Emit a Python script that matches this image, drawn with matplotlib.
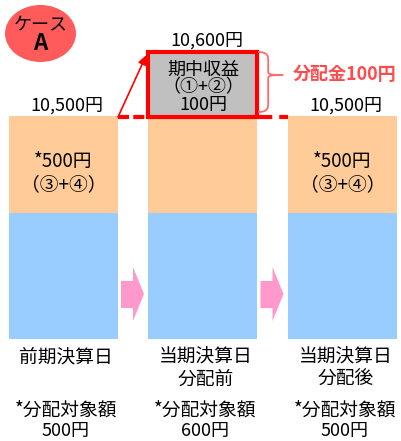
import matplotlib
matplotlib.use('Agg')
import matplotlib.pyplot as plt
from matplotlib.patches import Ellipse, Polygon, PathPatch
from matplotlib.path import Path

plt.rcParams['font.family'] = ['Noto Sans CJK JP', 'DejaVu Sans']
plt.rcParams['lines.scale_dashes'] = False

# ---- data ----
categories = ['前期決算日', '当期決算日\n分配前', '当期決算日\n分配後']
nav = [10500, 10600, 10500]
distributable = [500, 600, 500]
income = [0, 100, 0]
distribution = 100
case_label = 'ケース'
case_id = 'A'

# ---- layout (pixel-like schematic units) ----
PX = 139.5
BASE = 102
BLUE_H = 126
ORANGE_H = 97
GRAY_H = 65
BAR_W = 109 / PX

fig = plt.figure(figsize=(4.02, 4.41), dpi=100)
ax = fig.add_axes([0, 0, 1, 1])
ax.set_xlim(-63.5 / PX, (402 - 63.5) / PX)
ax.set_ylim(0, 441)
ax.axis('off')


def X(px):
    return (px - 63.5) / PX


def Y(py):
    return 441 - py


FS = 13          # numbers / box text
FS_CJK = 13.5    # category labels
xs = list(range(len(categories)))
top = BASE + BLUE_H + ORANGE_H

ax.bar(xs, [BLUE_H] * 3, bottom=BASE, width=BAR_W, color='#99CCFF', zorder=2)
ax.bar(xs, [ORANGE_H] * 3, bottom=BASE + BLUE_H, width=BAR_W, color='#FFCC99', zorder=2)

# dashed NAV line between bars
ax.plot([BAR_W / 2, 1 - BAR_W / 2], [top - 1, top - 1], color='red', lw=3,
        dashes=(8, 3), zorder=3, dash_capstyle='butt')
ax.plot([1 + BAR_W / 2, 2 - BAR_W / 2], [top - 1, top - 1], color='red', lw=3,
        dashes=(11, 5), zorder=3, dash_capstyle='butt')

# income box
inc_idx = [i for i, v in enumerate(income) if v > 0]
ax.bar(inc_idx, [GRAY_H] * len(inc_idx), bottom=top - 1, width=BAR_W,
       color='#C0C0C0', edgecolor='#FF0000', linewidth=3, zorder=5)

for i in inc_idx:
    # red arrow from previous NAV to new NAV
    ax.annotate('', xy=(i - BAR_W / 2 - 0.015, top + GRAY_H - 4),
                xytext=(i - 1 + BAR_W / 2, top - 1),
                arrowprops=dict(arrowstyle='-|>,head_length=0.55,head_width=0.25',
                                color='#FF0000', lw=1.2, shrinkA=0, shrinkB=0),
                zorder=6)
    ax.text(i, Y(70), '期中収益', ha='center', va='center', fontsize=FS, zorder=7)
    ax.text(i, Y(87), '（①+②）', ha='center', va='center', fontsize=FS, zorder=7)
    ax.text(i, Y(105), f'{income[i]}円', ha='center', va='center', fontsize=FS, zorder=7)

    # brace
    x0 = i + BAR_W / 2 + 0.005
    xm = x0 + 10 / PX
    xt = x0 + 25 / PX
    yt, ym, yb = Y(52), Y(75), Y(112)
    verts = [(x0, yt), (xm, yt), (xm, yt - 5), (xm, yt - 8),
             (xm, ym + 4),
             (xm, ym + 1), (xm, ym), (xt, ym),
             (xm, ym), (xm, ym - 1), (xm, ym - 4),
             (xm, yb + 8),
             (xm, yb + 5), (xm, yb), (x0, yb)]
    codes = [Path.MOVETO, Path.CURVE4, Path.CURVE4, Path.CURVE4,
             Path.LINETO,
             Path.CURVE4, Path.CURVE4, Path.CURVE4,
             Path.CURVE4, Path.CURVE4, Path.CURVE4,
             Path.LINETO,
             Path.CURVE4, Path.CURVE4, Path.CURVE4]
    ax.add_patch(PathPatch(Path(verts, codes), fill=False, edgecolor='#FF6B6B',
                           lw=1.3, zorder=6))
    ax.text(X(293), ym, f'分配金{distribution}円', ha='left', va='center',
            fontsize=13, fontweight='bold', color='#FF4B4B', zorder=7)

# NAV labels
for i, v in enumerate(nav):
    py = 41 if income[i] > 0 else 106
    ax.text(i + 0.025, Y(py), f'{v:,}円', ha='center', va='center', fontsize=FS, zorder=7)

# texts inside orange sections
for i, d in enumerate(distributable):
    if income[i] == 0:
        ax.text(i, Y(162), f'*{d}円', ha='center', va='center', fontsize=FS_CJK, zorder=7)
        ax.text(i, Y(185), '（③+④）', ha='center', va='center', fontsize=FS_CJK, zorder=7)

# category labels and distributable amounts
for i, (c, d) in enumerate(zip(categories, distributable)):
    for k, line in enumerate(c.split('\n')):
        ax.text(i + 0.02, Y(357 + 22 * k), line, ha='center', va='center', fontsize=FS_CJK)
    ax.text(i + 0.015, Y(410), '*分配対象額', ha='center', va='center', fontsize=FS_CJK)
    ax.text(i + 0.015, Y(431), f'{d}円', ha='center', va='center', fontsize=FS)

# pink arrows between bars
for g in (0.5, 1.5):
    c = X(133) + (g - 0.5)
    pts = [(c - 12 / PX, Y(281)), (c, Y(281)), (c, Y(267)), (c + 11 / PX, Y(294)),
           (c, Y(321)), (c, Y(308)), (c - 12 / PX, Y(308))]
    ax.add_patch(Polygon(pts, closed=True, facecolor='#FF99CC', edgecolor='none', zorder=3))

# case badge
ax.add_patch(Ellipse((X(40.5), Y(33.5)), 71 / PX, 57, facecolor='#FF5B5B',
                     edgecolor='none', zorder=4))
ax.text(X(40.5), Y(25), case_label, ha='center', va='center', fontsize=13, zorder=5)
ax.text(X(40.5), Y(44), case_id, ha='center', va='center', fontsize=16,
        fontweight='bold', zorder=5)

fig.savefig('out.png', dpi=100)
